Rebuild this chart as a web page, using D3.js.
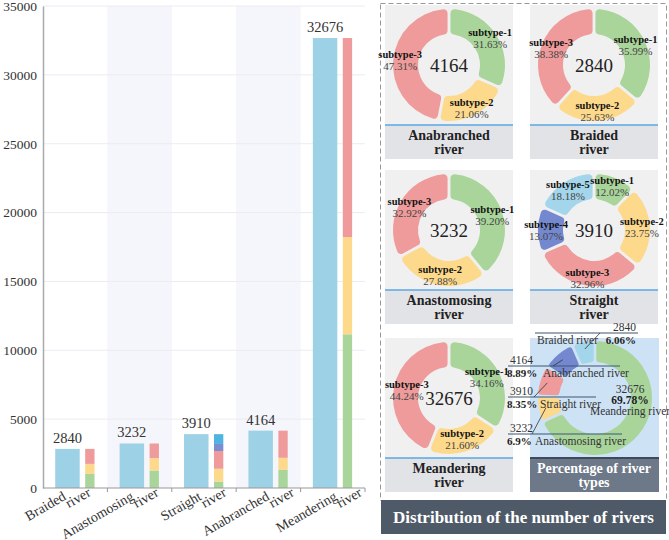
<!DOCTYPE html>
<html>
<head>
<meta charset="utf-8">
<script src="https://cdn.jsdelivr.net/npm/d3@7"></script>
<style>
  body { margin: 0; background: #fff; }
  svg { display: block; font-family: "Liberation Serif", "Times New Roman", serif; }
</style>
</head>
<body>
<div id="chart"></div>
<script>
// data
const categories = ["Braided river", "Anastomosing river", "Straight river", "Anabranched river", "Meandering river"];
const totals = [2840, 3232, 3910, 4164, 32676];
const subtypes = ["subtype-1", "subtype-2", "subtype-3", "subtype-4", "subtype-5"];
const braidedShares = [35.99, 25.63, 38.38];
const anastomosingShares = [39.20, 27.88, 32.92];
const straightShares = [12.02, 23.75, 32.96, 13.07, 18.18];
const anabranchedShares = [31.63, 21.06, 47.31];
const meanderingShares = [34.16, 21.60, 44.24];
const typeShares = [6.06, 6.9, 8.35, 8.89, 69.78];
const yTicks = [0, 5000, 10000, 15000, 20000, 25000, 30000, 35000];

const subtypeShares = [braidedShares, anastomosingShares, straightShares, anabranchedShares, meanderingShares];

/**
 * constants
 */
const WIDTH = 669;
const HEIGHT = 540;
const BAR_BLUE = "#9dd1e6";
const SUB_COLORS = ["#a9d59b", "#fdd98c", "#ef9b9b", "#7488d0", "#a3d5eb"];
const STACK_COLORS = ["#a9d59b", "#fdd98c", "#ef9b9b", "#7b8ed2", "#4fb5e0"];
const TYPE_COLORS = ["#a3d5eb", "#fdd98c", "#ef9b9b", "#7488d0", "#a9d59b"];

const svg = d3.select("#chart").append("svg")
    .attr("width", WIDTH)
    .attr("height", HEIGHT);

/**
 * left bar chart
 */
const x = d3.scaleBand().domain(categories).range([43, 365]);
const y = d3.scaleLinear().domain([0, 35000]).range([488, 6]);
const bw = x.bandwidth();

svg.selectAll("rect.band")
    .data(categories.filter((d, i) => i % 2 == 1))
    .enter()
    .append("rect")
    .attr("class", "band")
    .attr("x", d => x(d))
    .attr("y", y(35000))
    .attr("width", bw)
    .attr("height", y(0) - y(35000))
    .attr("fill", "#f5f6fb");

svg.selectAll("line.grid")
    .data(yTicks.slice(1))
    .enter()
    .append("line")
    .attr("class", "grid")
    .attr("x1", 43)
    .attr("x2", 365)
    .attr("y1", d => y(d))
    .attr("y2", d => y(d))
    .attr("stroke", "#eaecf3");

const yAxis = svg.append("g")
    .attr("transform", "translate(43,0)")
    .call(d3.axisLeft(y).tickValues(yTicks).tickSize(0).tickPadding(6).tickFormat(d => d));
yAxis.select(".domain").attr("stroke", "#aaa").attr("stroke-width", 1.5);
yAxis.selectAll("text")
    .attr("font-family", "Liberation Serif")
    .attr("font-size", 13.5)
    .attr("fill", "#333");

// total bars
svg.selectAll("rect.total")
    .data(categories)
    .enter()
    .append("rect")
    .attr("class", "total")
    .attr("x", d => x(d) + bw * 0.19)
    .attr("y", (d, i) => y(totals[i]))
    .attr("width", bw * 0.38)
    .attr("height", (d, i) => y(0) - y(totals[i]))
    .attr("fill", BAR_BLUE);

svg.selectAll("text.value")
    .data(categories)
    .enter()
    .append("text")
    .attr("class", "value")
    .attr("x", d => x(d) + bw * 0.38)
    .attr("y", (d, i) => y(totals[i]) - 6)
    .attr("text-anchor", "middle")
    .attr("font-size", 14.5)
    .attr("fill", "#333")
    .text((d, i) => totals[i]);

// stacked subtype bars
categories.forEach(function(c, i) {
    let base = 0;
    subtypeShares[i].forEach(function(p, j) {
        const v = totals[i] * p / 100;
        svg.append("rect")
            .attr("x", x(c) + bw * 0.655)
            .attr("y", y(base + v))
            .attr("width", bw * 0.145)
            .attr("height", y(base) - y(base + v))
            .attr("fill", STACK_COLORS[j]);
        base += v;
    });
});

// x axis
svg.append("line")
    .attr("x1", 43).attr("x2", 365)
    .attr("y1", y(0)).attr("y2", y(0))
    .attr("stroke", "#999");
svg.selectAll("line.xtick")
    .data(categories.slice(1).map(d => x(d)).concat([365]))
    .enter()
    .append("line")
    .attr("class", "xtick")
    .attr("x1", d => d).attr("x2", d => d)
    .attr("y1", y(0)).attr("y2", y(0) + 4)
    .attr("stroke", "#999");

const labelX = d3.scaleBand().domain(categories).range([41, 380]);
categories.forEach(function(c) {
    const words = c.split(" ");
    const g = svg.append("g")
        .attr("transform", `translate(${labelX(c) + labelX.bandwidth() / 2 - 8},499) rotate(-30)`)
        .attr("font-size", 14)
        .attr("fill", "#333");
    g.append("text").attr("text-anchor", "end").text(words[0]);
    g.append("text").attr("text-anchor", "start").attr("x", -3).attr("y", 9).text(words[1]);
});

/**
 * right panel
 */
svg.append("rect")
    .attr("x", 380.5).attr("y", 3.5)
    .attr("width", 286).attr("height", 497)
    .attr("fill", "none")
    .attr("stroke", "#999")
    .attr("stroke-dasharray", "5,3");

const colX = [385, 530];
const rowY = [5, 170, 338];
const PW = 128;
const CH = 120;
const LH = 34;

const panels = [
    { cat: 3, col: 0, row: 0, labelR: 49 },
    { cat: 0, col: 1, row: 0, labelR: 46 },
    { cat: 1, col: 0, row: 1, labelR: 46 },
    { cat: 2, col: 1, row: 1, labelR: 48 },
    { cat: 4, col: 0, row: 2, labelR: 43 }
];

const pie = d3.pie().sort(null).value(d => d).padAngle(0.045);
const arc = d3.arc().innerRadius(31).outerRadius(56).cornerRadius(4);

panels.forEach(function(p) {
    const px = colX[p.col];
    const py = rowY[p.row];
    const cx = px + PW / 2;
    const cy = py + 60;
    const labelArc = d3.arc().innerRadius(p.labelR).outerRadius(p.labelR);

    svg.append("rect").attr("x", px).attr("y", py).attr("width", PW).attr("height", CH).attr("fill", "#f0f0f1");
    svg.append("rect").attr("x", px).attr("y", py + CH).attr("width", PW).attr("height", LH).attr("fill", "#e2e3e7");
    svg.append("line")
        .attr("x1", px).attr("x2", px + PW)
        .attr("y1", py + CH).attr("y2", py + CH)
        .attr("stroke", "#5aa7e4").attr("stroke-width", 1.5);

    const words = categories[p.cat].split(" ");
    svg.append("text")
        .attr("x", cx).attr("y", py + CH + 15)
        .attr("text-anchor", "middle")
        .attr("font-size", 14).attr("font-weight", "bold").attr("fill", "#222")
        .text(words[0]);
    svg.append("text")
        .attr("x", cx).attr("y", py + CH + 28.5)
        .attr("text-anchor", "middle")
        .attr("font-size", 14).attr("font-weight", "bold").attr("fill", "#222")
        .text(words[1]);

    const g = svg.append("g").attr("transform", `translate(${cx},${cy})`);
    const slices = pie(subtypeShares[p.cat]);
    g.selectAll("path")
        .data(slices)
        .enter()
        .append("path")
        .attr("d", arc)
        .attr("fill", (d, i) => SUB_COLORS[i]);

    slices.forEach(function(s, i) {
        const c = labelArc.centroid(s);
        g.append("text")
            .attr("x", c[0]).attr("y", c[1] - 2)
            .attr("text-anchor", "middle")
            .attr("font-size", 10.5).attr("font-weight", "bold").attr("fill", "#111")
            .text(subtypes[i]);
        g.append("text")
            .attr("x", c[0]).attr("y", c[1] + 10)
            .attr("text-anchor", "middle")
            .attr("font-size", 11).attr("fill", "#444")
            .text(s.data.toFixed(2) + "%");
    });

    g.append("text")
        .attr("y", 7)
        .attr("text-anchor", "middle")
        .attr("font-size", 19).attr("fill", "#222")
        .text(totals[p.cat]);
});

// percentage of river types
const sx = colX[1];
const sy = rowY[2];
svg.append("rect").attr("x", sx).attr("y", sy).attr("width", PW + 1).attr("height", CH).attr("fill", "#cde2f5");
svg.append("rect").attr("x", sx).attr("y", sy + CH).attr("width", PW + 1).attr("height", LH).attr("fill", "#6d7888");
svg.append("line")
    .attr("x1", sx).attr("x2", sx + PW + 1)
    .attr("y1", sy + CH).attr("y2", sy + CH)
    .attr("stroke", "#3e4a5c").attr("stroke-width", 2);
svg.append("text")
    .attr("x", sx + PW / 2).attr("y", sy + CH + 15)
    .attr("text-anchor", "middle")
    .attr("font-size", 14).attr("font-weight", "bold").attr("fill", "#fff")
    .text("Percentage of river");
svg.append("text")
    .attr("x", sx + PW / 2).attr("y", sy + CH + 28.5)
    .attr("text-anchor", "middle")
    .attr("font-size", 14).attr("font-weight", "bold").attr("fill", "#fff")
    .text("types");

const typeOrder = [4, 1, 2, 3, 0];
const tcx = sx + 65;
const tcy = sy + 60;
const typeArc = d3.arc().innerRadius(36).outerRadius(57).cornerRadius(3);
const typePie = d3.pie().sort(null).value(d => typeShares[d]).padAngle(0.04);
const tg = svg.append("g").attr("transform", `translate(${tcx},${tcy})`);
const typeSlices = typePie(typeOrder);
tg.selectAll("path")
    .data(typeSlices)
    .enter()
    .append("path")
    .attr("d", typeArc)
    .attr("fill", d => TYPE_COLORS[d.data]);

// label placement for the share donut, by category index
const typeLabels = [
    { cat: 0, lx1: 535, lx2: 638, ly: 333, vx: 636, vAnchor: "end", px: 636, pAnchor: "end", nx: 537, nAnchor: "start", tip: [600, 333] },
    { cat: 3, lx1: 508, lx2: 620, ly: 366, vx: 510, vAnchor: "start", px: 507, pAnchor: "start", nx: 543, nAnchor: "start", tip: [553, 366] },
    { cat: 2, lx1: 508, lx2: 596, ly: 397, vx: 510, vAnchor: "start", px: 507, pAnchor: "start", nx: 540, nAnchor: "start", tip: [534, 397] },
    { cat: 1, lx1: 508, lx2: 622, ly: 434, vx: 510, vAnchor: "start", px: 507, pAnchor: "start", nx: 535, nAnchor: "start", tip: [532, 434] }
];
const edgeArc = d3.arc().innerRadius(50).outerRadius(50);

typeLabels.forEach(function(t) {
    const s = typeSlices.find(d => d.data == t.cat);
    const c = edgeArc.centroid(s);
    svg.append("line")
        .attr("x1", t.lx1).attr("x2", t.lx2)
        .attr("y1", t.ly).attr("y2", t.ly)
        .attr("stroke", "#3a5672").attr("stroke-width", 1);
    svg.append("line")
        .attr("x1", tcx + c[0]).attr("y1", tcy + c[1])
        .attr("x2", t.tip[0]).attr("y2", t.tip[1])
        .attr("stroke", "#333").attr("stroke-width", 0.8);
    svg.append("text")
        .attr("x", t.vx).attr("y", t.ly - 2)
        .attr("text-anchor", t.vAnchor)
        .attr("font-size", 11.5).attr("fill", "#333")
        .text(totals[t.cat]);
    svg.append("text")
        .attr("x", t.px).attr("y", t.ly + 11)
        .attr("text-anchor", t.pAnchor)
        .attr("font-size", 11).attr("font-weight", "bold").attr("fill", "#222")
        .text(typeShares[t.cat] + "%");
    svg.append("text")
        .attr("x", t.nx).attr("y", t.ly + 11)
        .attr("text-anchor", t.nAnchor)
        .attr("font-size", 11.5).attr("fill", "#333")
        .text(categories[t.cat]);
});

svg.append("text")
    .attr("x", 630).attr("y", 393)
    .attr("text-anchor", "middle")
    .attr("font-size", 11.5).attr("fill", "#333")
    .text(totals[4]);
svg.append("text")
    .attr("x", 630).attr("y", 404)
    .attr("text-anchor", "middle")
    .attr("font-size", 11.5).attr("font-weight", "bold").attr("fill", "#222")
    .text(typeShares[4] + "%");
svg.append("text")
    .attr("x", 630).attr("y", 415)
    .attr("text-anchor", "middle")
    .attr("font-size", 11.5).attr("fill", "#333")
    .text(categories[4]);

// title bar
svg.append("rect")
    .attr("x", 381).attr("y", 500)
    .attr("width", 285).attr("height", 34)
    .attr("fill", "#4f5a69");
svg.append("text")
    .attr("x", 523.5).attr("y", 523)
    .attr("text-anchor", "middle")
    .attr("font-size", 17).attr("font-weight", "bold").attr("fill", "#fff")
    .text("Distribution of the number of rivers");
</script>
</body>
</html>
